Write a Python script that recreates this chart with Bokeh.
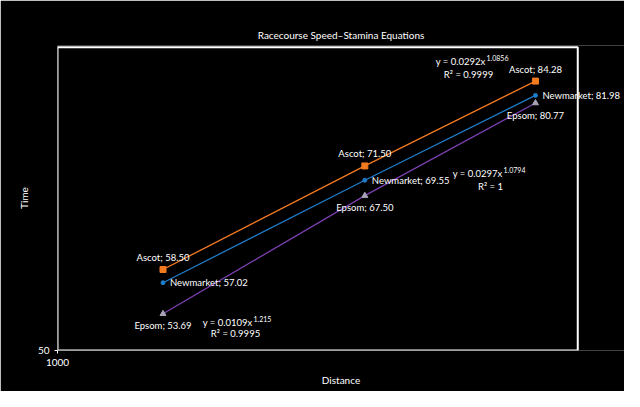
from bokeh.plotting import figure
from bokeh.models import ColumnDataSource, FixedTicker, Label, PrintfTickFormatter
from bokeh.embed import file_html
from bokeh.resources import INLINE

distance = [1100, 1320, 1540]
ascot = [58.50, 71.50, 84.28]
newmarket = [57.02, 69.55, 81.98]
epsom = [53.69, 67.50, 80.77]
series_names = ["Ascot", "Newmarket", "Epsom"]
equations = [("y = 0.0292x", "1.0856", "R² = 0.9999"),
             ("y = 0.0297x", "1.0794", "R² = 1"),
             ("y = 0.0109x", "1.215", "R² = 0.9995")]
x_bounds = [1000, 1600]
y_bounds = [50, 90]

p = figure(width=624, height=391, x_axis_type="log", y_axis_type="log",
           x_range=(1000, 1669), y_range=(50, 90.3),
           output_backend="svg", toolbar_location=None,
           background_fill_color="black", border_fill_color="black",
           min_border_left=57, min_border_right=0, min_border_top=45, min_border_bottom=41,
           title="Racecourse Speed–Stamina Equations")
p.title.text_color = "white"
p.title.text_font = "Lato"
p.title.text_font_size = "10px"
p.title.text_font_style = "normal"
p.title.align = "center"
p.title.offset = -24
p.grid.visible = False
p.outline_line_color = None
p.outline_line_alpha = 0

p.quad(left=[x_bounds[0]], right=[x_bounds[1]], bottom=[y_bounds[0]], top=[y_bounds[1]],
       fill_color=None, line_color="white", line_width=2)

for ax, t in ((p.xaxis[0], [1000]), (p.yaxis[0], [50])):
    ax.ticker = FixedTicker(ticks=t, minor_ticks=[])
    ax.formatter = PrintfTickFormatter(format="%d")
    ax.axis_line_color = None
    ax.major_tick_line_color = "white"
    ax.major_tick_in = 0
    ax.major_tick_out = 3
    ax.major_label_text_color = "white"
    ax.major_label_text_font = "Lato"
    ax.major_label_text_font_size = "10px"
    ax.axis_label_text_color = "white"
    ax.axis_label_text_font = "Lato"
    ax.axis_label_text_font_size = "10px"
    ax.axis_label_text_font_style = "normal"
p.xaxis.axis_label = "Distance"
p.yaxis.axis_label = "Time"

colors = ["#F47A20", "#1F7BC8", "#7B3FB0"]
marker_colors = ["#F47A20", "#1F7BC8", "#A9A2B8"]
markers = ["square", "circle", "triangle"]
sizes = [6, 4, 6]
label_style = [("center", 0, 12), ("left", 7, 0), ("center", 0, -12)]

for name, ys, c, mc, mk, sz, (al, xo, yo) in zip(series_names, [ascot, newmarket, epsom],
                                              colors, marker_colors, markers, sizes, label_style):
    src = ColumnDataSource(dict(x=distance, y=ys))
    p.line("x", "y", source=src, line_color=c, line_width=1.3)
    p.scatter("x", "y", source=src, marker=mk, size=sz, fill_color=mc, line_color=mc)
    for xv, yv in zip(distance, ys):
        p.add_layout(Label(x=xv, y=yv, text=f"{name}; {yv:.2f}", text_color="white",
                           text_font="Lato", text_font_size="9.5px", text_align=al,
                           text_baseline="middle", x_offset=xo, y_offset=yo))

eq_pos = [(428, 289, 411, 276), (445, 177, 433, 164), (195, 28, 178, 17)]
for (main, exp, r2), (mx, my, rx, ry) in zip(equations, eq_pos):
    p.add_layout(Label(x=mx, y=my, x_units="screen", y_units="screen", text=main,
                       text_color="white", text_font="Lato", text_font_size="9.5px",
                       text_align="right", text_baseline="middle"))
    p.add_layout(Label(x=mx + 1, y=my + 4, x_units="screen", y_units="screen", text=exp,
                       text_color="white", text_font="Lato", text_font_size="7px",
                       text_align="left", text_baseline="middle"))
    p.add_layout(Label(x=rx, y=ry, x_units="screen", y_units="screen", text=r2,
                       text_color="white", text_font="Lato", text_font_size="9.5px",
                       text_align="center", text_baseline="middle"))

open("out.html", "w").write(file_html(p, INLINE))
